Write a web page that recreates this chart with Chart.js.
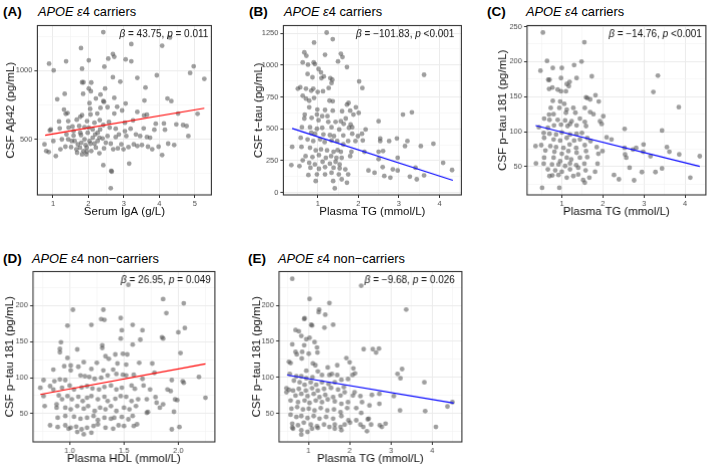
<!DOCTYPE html>
<html>
<head>
<meta charset="utf-8">
<script src="https://cdn.jsdelivr.net/npm/chart.js@4.4.0/dist/chart.umd.min.js"></script>
<style>
    body { margin: 0; width: 709px; height: 466px; background: #fff; position: relative; overflow: hidden;
           font-family: "Liberation Sans", Arial, sans-serif; }
    .painel { position: absolute; }
    .letra { position: absolute; font-size: 13.5px; font-weight: bold; line-height: 16px; }
    .titulo { position: absolute; font-size: 12.8px; line-height: 16px; white-space: nowrap; }
</style>
</head>
<body>

<div class="letra" style="left:3px;top:4px">(A)</div>
<div class="titulo" style="left:38px;top:4px"><i>APOE ε</i>4 carriers</div>
<div class="letra" style="left:249px;top:4px">(B)</div>
<div class="titulo" style="left:284px;top:4px"><i>APOE ε</i>4 carriers</div>
<div class="letra" style="left:487px;top:4px">(C)</div>
<div class="titulo" style="left:526px;top:4px"><i>APOE ε</i>4 carriers</div>
<div class="letra" style="left:3px;top:251px">(D)</div>
<div class="titulo" style="left:32px;top:251px"><i>APOE ε</i>4 non−carriers</div>
<div class="letra" style="left:248px;top:251px">(E)</div>
<div class="titulo" style="left:278px;top:251px"><i>APOE ε</i>4 non−carriers</div>

<div class="painel" id="caixaA"><canvas id="graficoA"></canvas></div>
<div class="painel" id="caixaB"><canvas id="graficoB"></canvas></div>
<div class="painel" id="caixaC"><canvas id="graficoC"></canvas></div>
<div class="painel" id="caixaD"><canvas id="graficoD"></canvas></div>
<div class="painel" id="caixaE"><canvas id="graficoE"></canvas></div>

<script>
// (A) IgA x Abeta42
var pontosA = [[2.42,1280],[4.30,1241],[3.21,1193],[4.08,1181],[1.79,1164],[2.69,1121],[2.73,1101],[2.56,1087],[3.05,1082],[3.21,1068],[2.01,1075],[1.37,1068],[0.89,1051],[1.02,1002],[2.45,1029],[1.82,1014],[4.97,1031],[4.87,983],[5.27,940],[3.93,966],[3.38,947],[2.69,952],[2.90,920],[1.82,915],[1.86,915],[2.08,913],[2.01,870],[2.07,850],[2.47,870],[3.61,877],[2.34,826],[1.33,831],[1.85,831],[1.12,792],[2.21,797],[2.42,778],[2.44,773],[2.73,802],[3.58,783],[4.23,797],[4.34,778],[2.03,763],[3.05,761],[2.34,729],[2.81,737],[1.31,717],[1.41,691],[1.36,686],[2.05,722],[2.54,734],[2.95,710],[3.38,700],[1.82,676],[1.77,664],[2.06,681],[2.25,688],[2.73,688],[3.57,674],[3.65,679],[4.53,688],[5.08,686],[1.17,630],[1.43,633],[1.67,643],[1.96,633],[2.32,640],[2.58,626],[3.03,621],[3.26,638],[3.90,614],[4.13,616],[4.48,609],[4.67,604],[0.94,572],[0.91,565],[1.19,580],[1.44,585],[1.55,594],[1.89,589],[2.12,572],[2.33,572],[2.60,585],[2.77,577],[3.03,560],[3.19,577],[3.56,580],[3.86,570],[4.16,570],[4.77,597],[0.76,464],[0.81,415],[0.88,408],[1.08,379],[1.01,488],[1.25,500],[1.21,428],[1.35,447],[1.51,444],[1.53,488],[1.70,464],[1.76,440],[1.86,415],[1.94,391],[1.95,440],[2.06,469],[2.08,415],[2.21,440],[2.31,399],[2.44,435],[2.49,476],[2.63,469],[2.70,428],[2.83,435],[2.93,464],[2.99,428],[3.13,444],[3.28,464],[3.38,452],[3.51,459],[3.68,447],[3.80,428],[3.98,447],[4.08,386],[4.25,469],[4.42,459],[4.82,524],[1.38,536],[1.58,527],[1.79,531],[1.98,548],[2.19,536],[2.31,512],[2.54,524],[2.77,517],[2.86,536],[3.07,524],[3.34,536],[3.46,524],[3.65,517],[3.74,512],[1.43,500],[1.61,488],[1.66,428],[1.80,476],[1.89,500],[1.92,459],[2.03,488],[2.12,512],[2.17,469],[2.26,488],[2.40,507],[1.68,403],[1.82,391],[1.95,411],[1.77,548],[1.58,560],[2.26,548],[2.01,585],[2.42,604],[2.17,621],[1.74,597],[2.42,312],[3.15,324],[2.64,271],[2.66,266],[2.63,145]];
var retaXA = [0.78, 5.27];
var retaYA = [530, 727];
var limXA = [0.56, 5.47];
var limYA = [96, 1328];
var ticksXA = [1, 2, 3, 4, 5];
var ticksYA = [500, 1000];

// (B) TG x t-tau
var pontosB = [[1.22,1255],[1.37,1203],[0.91,1177],[1.18,1081],[0.67,1099],[0.72,1073],[1.57,1089],[1.61,1063],[0.63,1021],[0.90,1021],[0.93,1008],[1.50,1029],[0.76,1003],[1.72,984],[1.02,969],[1.08,943],[0.75,930],[1.31,898],[1.36,885],[0.87,904],[1.09,898],[1.15,911],[3.62,924],[1.34,859],[2.02,872],[0.57,826],[0.51,815],[2.10,820],[0.89,815],[0.71,815],[1.13,794],[1.00,789],[0.84,799],[1.27,820],[0.63,760],[0.71,737],[0.79,721],[0.91,742],[1.29,721],[1.37,716],[1.76,703],[1.72,690],[0.79,669],[0.99,651],[1.18,648],[1.37,643],[1.60,638],[1.80,643],[2.01,625],[1.88,612],[1.94,669],[3.10,612],[3.32,630],[0.68,612],[0.98,612],[1.11,599],[1.24,599],[1.69,581],[1.57,560],[0.67,581],[0.85,586],[1.02,568],[1.26,555],[1.44,555],[1.64,539],[1.81,534],[1.85,513],[2.50,560],[0.61,513],[0.81,513],[0.98,500],[1.11,508],[1.34,513],[1.53,495],[1.77,508],[2.18,495],[0.84,469],[0.93,461],[1.14,456],[1.30,451],[1.40,443],[1.63,448],[1.85,461],[1.99,443],[2.09,461],[0.58,430],[0.75,417],[0.89,404],[1.06,417],[1.17,396],[1.34,409],[1.48,404],[1.63,378],[1.75,404],[1.93,404],[2.11,409],[2.54,425],[2.54,404],[2.76,404],[2.95,425],[3.21,404],[3.15,365],[3.54,365],[3.85,383],[0.37,359],[0.60,359],[0.81,352],[0.95,331],[1.08,339],[1.23,331],[1.39,320],[1.49,333],[1.57,320],[1.83,320],[2.15,320],[2.50,320],[2.61,326],[0.70,286],[0.87,279],[1.03,294],[1.20,273],[1.33,286],[1.46,273],[1.59,273],[1.80,286],[2.50,263],[2.97,273],[0.63,253],[0.79,234],[0.93,221],[1.12,242],[1.30,227],[1.44,242],[1.54,221],[4.09,234],[0.35,216],[0.55,208],[0.82,195],[1.03,187],[1.18,200],[1.39,195],[1.54,190],[1.68,182],[2.25,174],[2.40,156],[2.60,200],[2.85,182],[2.97,174],[3.41,195],[4.31,177],[0.77,138],[0.98,143],[1.18,143],[1.34,156],[1.52,143],[1.75,143],[2.64,130],[2.79,117],[3.27,125],[3.44,104],[3.62,135],[0.95,91],[1.38,91],[1.59,104],[1.72,78],[1.42,34]];
var retaXB = [0.37, 4.33];
var retaYB = [503, 96];
var limXB = [0.154, 4.54];
var limYB = [-18, 1310];
var ticksXB = [1, 2, 3, 4];
var ticksYB = [0, 250, 500, 750, 1000, 1250];

// (C) TG x p-tau 181 (carriers)
var pontosC = [[0.54,241.5],[1.55,227.7],[0.48,187],[0.64,201],[1.48,200],[0.78,191],[1.00,191],[1.30,195],[3.34,180],[1.73,179],[0.67,174],[0.70,174],[1.36,176.5],[0.98,176.5],[1.19,171],[1.12,168],[0.77,163],[0.69,161],[1.17,165],[0.90,160],[0.98,157.6],[1.10,157.6],[3.23,156.6],[1.62,148],[1.59,149],[1.69,146],[1.82,152],[0.78,144],[0.96,143],[1.90,143],[3.85,135],[1.06,139.6],[0.73,134],[0.94,134],[1.12,131.5],[1.28,134],[1.56,134],[2.01,122],[0.69,124.4],[0.80,125],[1.10,127],[1.33,127],[1.69,128],[1.77,125],[0.57,118.7],[0.70,116.8],[0.90,116.8],[1.08,116],[1.24,115],[1.20,111],[1.44,118.7],[1.56,114],[1.93,115],[0.44,106.4],[0.66,105.5],[0.81,109],[0.98,110],[1.14,108],[1.36,109],[1.59,108],[1.97,111],[2.53,104],[3.44,101.7],[0.56,98.3],[0.70,97],[0.86,96],[1.00,99],[1.20,96],[1.36,97],[1.49,98.3],[1.62,91],[2.09,92],[0.57,91.2],[0.80,88.9],[0.96,87.4],[1.12,91.2],[1.30,87.4],[1.44,88.9],[1.70,86.5],[2.21,88.9],[0.36,79.4],[0.50,80.8],[0.72,79.4],[0.86,78],[1.04,77],[1.19,81.8],[1.35,77],[1.56,80.8],[1.85,78],[1.99,72.3],[2.53,77],[2.73,74.6],[2.81,77],[2.99,81.8],[3.56,78],[3.62,71.3],[0.60,73.2],[0.82,71.3],[1.00,68.5],[1.16,72.3],[1.36,70],[1.59,72.3],[1.89,68.5],[2.54,67.5],[2.57,63],[2.98,71.3],[3.16,65],[3.86,67.5],[4.36,65],[0.57,63],[0.80,63],[0.96,58],[1.12,63],[1.23,60.4],[1.44,63],[1.62,63.7],[0.37,54.7],[0.56,54.3],[0.76,53.3],[0.92,53.3],[1.08,51],[1.20,54.7],[1.35,52.4],[1.55,54.3],[1.87,54.3],[2.65,48.6],[3.44,47.6],[0.66,46.2],[0.84,44.8],[1.00,42.9],[1.20,46.2],[1.40,48.6],[1.58,44.8],[1.81,42.9],[0.70,36.7],[0.77,37.7],[0.92,38.2],[1.12,34.4],[1.28,36.7],[1.40,39],[1.52,31],[1.56,27.3],[1.67,34.4],[2.27,38.2],[2.39,32],[2.76,30.6],[2.95,42.4],[3.28,42.4],[4.13,34.4],[0.52,20],[0.94,20]];
var retaXC = [0.36, 4.36];
var retaYC = [108.8, 50.5];
var limXC = [0.153, 4.51];
var limYC = [9.8, 251.4];
var ticksXC = [1, 2, 3, 4];
var ticksYC = [50, 100, 150, 200, 250];

// (D) HDL x p-tau 181 (non-carriers)
var pontosD = [[1.54,228.5],[1.86,208.7],[2.05,203],[1.03,194],[1.31,194],[0.98,172],[1.20,173],[1.47,182.5],[1.58,173],[1.89,189.4],[2.06,168.7],[1.29,181],[1.32,180],[1.67,165.5],[1.48,165.5],[1.65,152.6],[2.00,162.7],[1.85,156],[1.86,154],[0.92,149],[1.07,139],[1.30,144.8],[1.30,141],[0.91,139.7],[0.91,135],[1.58,145.7],[1.47,154],[2.02,134],[1.76,119.5],[1.33,129.6],[1.36,126],[1.42,132],[1.49,133],[1.53,132],[0.98,127.3],[1.13,121.3],[1.44,119.5],[1.20,112],[1.01,116.7],[1.08,115],[1.01,110],[0.95,115.8],[1.25,120.4],[1.52,118],[1.64,120.4],[1.31,110],[1.40,111],[0.85,111],[0.91,97.4],[0.96,96.5],[1.10,103],[1.14,102],[1.18,101],[1.23,98.3],[1.29,99.7],[1.35,103],[1.43,105],[1.49,104],[1.52,103],[1.59,104],[1.67,98.3],[1.78,106.6],[2.04,95],[2.05,92.8],[2.19,101],[1.94,96.5],[0.76,96.5],[0.73,85.9],[0.86,95],[0.82,88.2],[0.85,83.6],[0.93,86],[1.00,89],[1.04,83.6],[1.11,86.3],[1.16,88.2],[1.21,85],[1.27,83.6],[1.32,87],[1.38,89],[1.43,83.6],[1.48,86],[1.57,89],[1.60,84.5],[1.68,89],[1.74,83.6],[1.90,83.6],[1.93,81.3],[2.25,72],[1.97,69.7],[1.79,73],[0.76,74.4],[0.77,60.6],[0.90,75.3],[0.93,70],[0.88,63],[0.98,74.4],[1.02,70],[1.08,73.4],[1.12,67.5],[1.16,72],[1.20,74.4],[1.26,70],[1.32,73.4],[1.35,67.5],[1.42,70.7],[1.47,74.4],[1.52,73.4],[1.57,67.5],[1.63,70],[1.71,70],[1.80,65.2],[1.86,63],[1.99,68.8],[0.88,58.3],[0.96,58.3],[1.01,56],[1.07,60.6],[1.13,57],[1.17,60.6],[1.23,53.7],[1.28,58.3],[1.33,56],[1.38,60.6],[1.43,53.7],[1.50,58.3],[1.55,56],[1.61,60.6],[1.72,52.3],[1.83,58.3],[1.96,52.7],[0.89,44.4],[0.96,46.8],[1.04,45.8],[1.10,43],[1.16,44.4],[1.22,46.8],[1.26,41.2],[1.32,44.4],[1.38,43],[1.41,44.4],[1.48,45.4],[1.54,42.2],[1.58,46.8],[1.71,51.3],[0.82,33.9],[0.89,31.6],[0.96,33.9],[1.01,30.7],[0.99,29.3],[1.06,32],[1.11,28.3],[1.16,30.7],[1.22,33],[1.26,35.3],[1.33,30.7],[1.40,29.3],[1.45,33.9],[1.50,33],[1.59,33],[1.62,35.3],[1.94,28.3],[2.01,31.6],[1.07,24.7],[1.13,21.4],[1.20,23.7]];
var retaXD = [0.73, 2.25];
var retaYD = [76.7, 119];
var limXD = [0.663, 2.337];
var limYD = [10.9, 246.9];
var ticksXD = [1.0, 1.5, 2.0];
var ticksYD = [50, 100, 150, 200];

// (E) TG x p-tau 181 (non-carriers)
var pontosE = [[0.61,236.6],[2.28,227],[1.03,208.7],[1.51,203],[3.37,194],[1.26,194],[1.25,190.4],[0.91,182],[0.90,181],[1.41,187],[1.07,173],[1.09,172],[1.60,173],[1.39,169],[0.69,165.7],[0.77,164],[0.83,157.5],[0.95,153],[1.03,155],[1.15,149],[0.61,146],[0.90,144.7],[1.21,141.5],[2.34,139.2],[2.56,139.2],[2.71,140],[2.64,134.6],[0.69,135.5],[0.72,132],[0.85,135.5],[1.01,133],[1.22,134.6],[0.84,126.4],[1.92,127],[2.00,121],[0.53,121.8],[0.57,120],[1.11,119.5],[1.17,117],[1.70,117],[1.47,114],[3.27,111.8],[0.95,109.5],[1.23,108.6],[2.09,112.7],[2.13,105.8],[2.07,103.5],[3.16,105],[3.23,99],[0.55,105],[0.71,101.7],[0.83,101.7],[0.95,99],[1.10,100.3],[1.33,103.5],[1.51,103.5],[1.57,104.9],[1.70,103.5],[1.80,97],[1.96,98],[0.65,95.8],[0.79,93.5],[0.91,90],[1.06,93.5],[1.19,90],[1.33,93.5],[1.49,91.2],[1.64,93.5],[1.86,86.6],[3.81,93.5],[0.47,85.2],[0.53,83],[0.63,82],[0.77,84.3],[0.94,82],[1.09,85.2],[1.23,82],[1.38,84.3],[1.55,85.7],[1.72,83.4],[1.88,79.7],[2.12,79.7],[0.47,79.7],[0.69,75],[0.83,77.5],[0.98,74.3],[1.13,77.5],[1.27,72.9],[1.41,76],[1.60,72.9],[1.78,75.2],[2.08,75.2],[2.26,74.3],[2.54,76],[2.72,77.5],[3.07,74.3],[0.57,68.3],[0.75,66],[0.91,68.3],[1.03,65],[1.18,68.3],[1.33,66],[1.47,69.7],[1.64,67],[1.80,63.7],[1.96,66],[2.30,66],[2.72,63.7],[2.48,61.5],[3.22,54.6],[3.83,53.7],[4.37,60],[4.49,66],[0.59,57],[0.73,59.2],[0.87,56],[1.01,57],[1.15,54.6],[1.30,57.8],[1.46,54.6],[1.62,56],[1.78,52.3],[1.94,57.8],[2.16,57.8],[2.28,51],[0.57,48.7],[0.71,45.5],[0.83,46.8],[0.98,44],[1.13,46.8],[1.27,43.2],[1.43,45.5],[1.60,43.2],[1.80,46.8],[1.97,40.9],[2.16,40.9],[2.44,42.3],[2.46,43.2],[0.61,36.3],[0.75,34],[0.89,37.7],[1.06,35],[1.21,32.6],[1.38,35],[1.51,31.7],[1.64,35],[1.78,31.7],[1.88,35],[2.01,37.7],[2.26,35],[2.33,31.7],[2.52,35],[2.73,34],[2.78,31.7],[2.87,36.3],[4.09,31.7],[0.61,30.8],[0.63,29.4],[0.83,27.2],[0.98,24.9],[1.09,29.4],[1.23,30.3],[1.64,29.4],[1.80,27.2],[2.42,25.8],[0.83,21.2]];
var retaXE = [0.485, 4.52];
var retaYE = [103.5, 64.7];
var limXE = [0.29, 4.72];
var limYE = [11, 246.6];
var ticksXE = [1, 2, 3, 4];
var ticksYE = [50, 100, 150, 200];

var fonte = '"Liberation Sans", Arial, sans-serif';
var tamTituloEixo = 11.5;
var tamTexto = 10;
Chart.defaults.font.family = fonte;

// caixa em volta do painel (panel.border do ggplot)
var bordaPainel = {
    id: 'bordaPainel',
    afterDraw: function (chart) {
        var a = chart.chartArea;
        var ctx = chart.ctx;
        ctx.save();
        ctx.strokeStyle = '#333333';
        ctx.lineWidth = 1.1;
        ctx.strokeRect(a.left, a.top, a.right - a.left, a.bottom - a.top);
        ctx.restore();
    }
};

// texto "beta = ..., p = ..." no canto superior direito
var textoBeta = {
    id: 'textoBeta',
    afterDatasetsDraw: function (chart, args, opts) {
        var ctx = chart.ctx;
        var a = chart.chartArea;
        var partes = opts.partes;
        ctx.save();
        ctx.fillStyle = '#111';
        ctx.textBaseline = 'middle';
        ctx.textAlign = 'left';
        var larguras = [];
        var total = 0;
        for (var i = 0; i < partes.length; i++) {
            ctx.font = (partes[i][1] ? 'italic ' : '') + tamTexto + 'px ' + fonte;
            larguras.push(ctx.measureText(partes[i][0]).width);
            total += larguras[i];
        }
        var x = a.right - opts.recuo - total;
        for (var j = 0; j < partes.length; j++) {
            ctx.font = (partes[j][1] ? 'italic ' : '') + tamTexto + 'px ' + fonte;
            ctx.fillText(partes[j][0], x, a.top + 9);
            x += larguras[j];
        }
        ctx.restore();
    }
};

function ehMaior(valor, lista) {
    for (var i = 0; i < lista.length; i++) {
        if (Math.abs(lista[i] - valor) < 1e-9) return true;
    }
    return false;
}

// marcas maiores + menores (a meio caminho, como o ggplot)
function todasMarcas(maiores, lim) {
    var passo = maiores[1] - maiores[0];
    var lista = [];
    var v = maiores[0] - Math.ceil((maiores[0] - lim[0]) / passo) * passo - passo / 2;
    for (; v <= lim[1] + 1e-9; v += passo / 2) {
        if (v >= lim[0] - 1e-9) lista.push(Math.round(v * 1000) / 1000);
    }
    return lista;
}

function montarEixo(maiores, lim, casas, titulo, tamanho, horizontal) {
    return {
        type: 'linear',
        position: horizontal ? 'bottom' : 'left',
        min: lim[0],
        max: lim[1],
        bounds: 'data',
        afterBuildTicks: function (escala) {
            escala.ticks = todasMarcas(maiores, lim).map(function (v) { return { value: v }; });
        },
        afterFit: function (escala) {
            if (horizontal) escala.height = tamanho;
            else escala.width = tamanho;
        },
        border: { display: false },
        grid: {
            drawTicks: true,
            tickLength: 3,
            color: function (c) { return ehMaior(c.tick.value, maiores) ? '#ebebeb' : '#f2f2f2'; },
            lineWidth: function (c) { return ehMaior(c.tick.value, maiores) ? 1 : 0.6; },
            tickColor: function (c) { return ehMaior(c.tick.value, maiores) ? '#333333' : 'rgba(0,0,0,0)'; },
            tickWidth: 1
        },
        ticks: {
            autoSkip: false,
            maxRotation: 0,
            padding: horizontal ? 1 : 2,
            color: '#4d4d4d',
            font: { size: 7.5 },
            callback: function (v) { return ehMaior(v, maiores) ? Number(v).toFixed(casas) : ''; }
        },
        title: {
            display: true,
            text: titulo,
            color: '#111',
            font: { size: tamTituloEixo },
            padding: { top: 1, bottom: 1 }
        }
    };
}

function plotarPainel(p) {
    var alturaLinha = tamTituloEixo * 1.2;
    var esquerda = p.tituloYX - 1 - alturaLinha / 2;
    var topo = p.area.t - 5;
    var baixo = p.tituloXY + 1 + alturaLinha / 2;
    var direita = p.area.r + 2;

    var caixa = document.getElementById('caixa' + p.id);
    caixa.style.left = esquerda + 'px';
    caixa.style.top = topo + 'px';
    caixa.style.width = (direita - esquerda) + 'px';
    caixa.style.height = (baixo - topo) + 'px';

    var pontos = p.pontos.map(function (d) { return { x: d[0], y: d[1] }; });
    var reta = [{ x: p.retaX[0], y: p.retaY[0] }, { x: p.retaX[1], y: p.retaY[1] }];

    new Chart(document.getElementById('grafico' + p.id), {
        type: 'scatter',
        data: {
            datasets: [{
                data: reta,
                showLine: true,
                borderColor: p.corReta,
                borderWidth: 1.1,
                pointRadius: 0
            }, {
                data: pontos,
                pointRadius: 2.4,
                pointBackgroundColor: 'rgba(80,80,80,0.55)',
                pointBorderWidth: 0
            }]
        },
        options: {
            responsive: true,
            maintainAspectRatio: false,
            animation: false,
            layout: { padding: { top: 5, right: 2, left: 0, bottom: 0 } },
            plugins: {
                legend: { display: false },
                tooltip: { enabled: false },
                textoBeta: { partes: p.texto, recuo: p.recuo }
            },
            scales: {
                x: montarEixo(p.ticksX, p.limX, p.casasX, p.tituloX, baixo - p.area.b, true),
                y: montarEixo(p.ticksY, p.limY, 0, p.tituloY, p.area.l - esquerda, false)
            }
        },
        plugins: [bordaPainel, textoBeta]
    });
}

plotarPainel({
    id: 'A', pontos: pontosA, retaX: retaXA, retaY: retaYA, corReta: '#ff0000',
    limX: limXA, limY: limYA, ticksX: ticksXA, ticksY: ticksYA, casasX: 0,
    tituloX: 'Serum IgA (g/L)', tituloY: 'CSF Aβ42 (pg/mL)',
    texto: [['β', true], [' = 43.75, ', false], ['p', true], [' = 0.011', false]], recuo: 3,
    area: { l: 37, t: 24, r: 213, b: 194 }, tituloYX: 10.5, tituloXY: 211
});
plotarPainel({
    id: 'B', pontos: pontosB, retaX: retaXB, retaY: retaYB, corReta: '#0000ff',
    limX: limXB, limY: limYB, ticksX: ticksXB, ticksY: ticksYB, casasX: 0,
    tituloX: 'Plasma TG (mmol/L)', tituloY: 'CSF t−tau (pg/mL)',
    texto: [['β', true], [' = −101.83, ', false], ['p', true], [' <0.001', false]], recuo: 7,
    area: { l: 283, t: 24, r: 463, b: 194 }, tituloYX: 258.5, tituloXY: 211
});
plotarPainel({
    id: 'C', pontos: pontosC, retaX: retaXC, retaY: retaYC, corReta: '#0000ff',
    limX: limXC, limY: limYC, ticksX: ticksXC, ticksY: ticksYC, casasX: 0,
    tituloX: 'Plasma TG (mmol/L)', tituloY: 'CSF p−tau 181 (pg/mL)',
    texto: [['β', true], [' = −14.76, ', false], ['p', true], [' <0.001', false]], recuo: 4,
    area: { l: 527, t: 24, r: 707, b: 194 }, tituloYX: 503, tituloXY: 211
});
plotarPainel({
    id: 'D', pontos: pontosD, retaX: retaXD, retaY: retaYD, corReta: '#ff0000',
    limX: limXD, limY: limYD, ticksX: ticksXD, ticksY: ticksYD, casasX: 1,
    tituloX: 'Plasma HDL (mmol/L)', tituloY: 'CSF p−tau 181 (pg/mL)',
    texto: [['β', true], [' = 26.95, ', false], ['p', true], [' = 0.049', false]], recuo: 4,
    area: { l: 33, t: 270, r: 216, b: 441 }, tituloYX: 10, tituloXY: 458
});
plotarPainel({
    id: 'E', pontos: pontosE, retaX: retaXE, retaY: retaYE, corReta: '#0000ff',
    limX: limXE, limY: limYE, ticksX: ticksXE, ticksY: ticksYE, casasX: 0,
    tituloX: 'Plasma TG (mmol/L)', tituloY: 'CSF p−tau 181 (pg/mL)',
    texto: [['β', true], [' = −9.68, ', false], ['p', true], [' = 0.026', false]], recuo: 7,
    area: { l: 279, t: 270, r: 463, b: 441 }, tituloYX: 257, tituloXY: 458
});
</script>
</body>
</html>
